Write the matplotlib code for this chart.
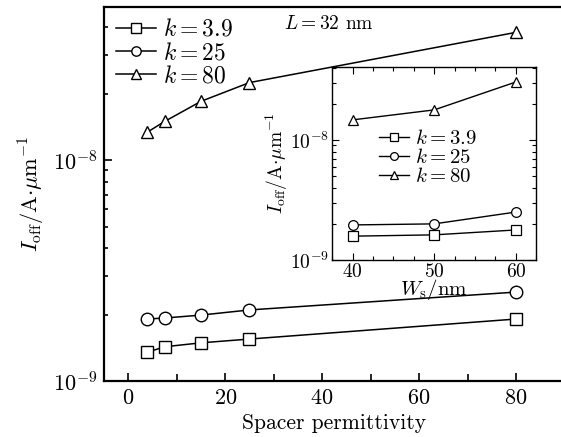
import matplotlib
matplotlib.use("Agg")
import matplotlib.pyplot as plt
from matplotlib.ticker import LogLocator, MultipleLocator, NullFormatter

plt.rcParams["font.family"] = "serif"
plt.rcParams["font.serif"] = ["cmr10", "DejaVu Serif"]
plt.rcParams["mathtext.fontset"] = "cm"
plt.rcParams["axes.formatter.use_mathtext"] = True

# main plot: off current vs spacer permittivity
eps_spacer = [3.9, 7.5, 15, 25, 80]
ioff_k39 = [1.35e-9, 1.43e-9, 1.49e-9, 1.55e-9, 1.91e-9]
ioff_k25 = [1.91e-9, 1.93e-9, 1.99e-9, 2.10e-9, 2.53e-9]
ioff_k80 = [1.34e-8, 1.50e-8, 1.85e-8, 2.25e-8, 3.80e-8]

# inset: off current vs spacer width
ws_nm = [40, 50, 60]
inset_k39 = [1.58e-9, 1.62e-9, 1.78e-9]
inset_k25 = [1.96e-9, 2.00e-9, 2.51e-9]
inset_k80 = [1.47e-8, 1.78e-8, 3.04e-8]

labels = [r"$k=3.9$", r"$k=25$", r"$k=80$"]
markers = ["s", "o", "^"]
ylab = r"$I_{\rm off}/{\rm A}{\cdot}\mu{\rm m}^{-1}$"

fig = plt.figure(figsize=(5.61, 4.37), dpi=100)
ax = fig.add_axes([0.1854, 0.128, 0.821, 0.856])

for ys, m, lab in zip([ioff_k39, ioff_k25, ioff_k80], markers, labels):
    ax.plot(eps_spacer, ys, color="black", lw=1.1, marker=m, ms=9,
            mfc="white", mec="black", mew=1.0, label=lab)

ax.set_yscale("log")
ax.set_xlim(-5, 90)
ax.set_ylim(1e-9, 4.95e-8)
ax.xaxis.set_major_locator(MultipleLocator(20))
ax.xaxis.set_minor_locator(MultipleLocator(10))
ax.yaxis.set_major_locator(LogLocator(base=10, numticks=10))
ax.yaxis.set_minor_locator(LogLocator(base=10, subs=range(2, 10), numticks=10))
ax.yaxis.set_minor_formatter(NullFormatter())
ax.tick_params(which="both", direction="in", labelsize=16, width=1.2, pad=5)
ax.tick_params(which="major", length=6)
ax.tick_params(which="minor", length=5)
ax.tick_params(axis="y", which="minor", length=3)
for s in ["left", "bottom", "top"]:
    ax.spines[s].set_linewidth(1.6)
ax.spines["right"].set_visible(False)

ax.set_xlabel("Spacer permittivity", fontsize=15.5, labelpad=4)
ax.set_ylabel(ylab, fontsize=16, labelpad=4)
ax.legend(loc="upper left", frameon=False, fontsize=17, handlelength=1.7,
          handletextpad=0.3, labelspacing=0.05, borderaxespad=0.2,
          borderpad=0.3, markerscale=0.75)
ax.text(0.39, 0.955, r"$L=32$ nm", transform=ax.transAxes, fontsize=14,
        va="center", ha="left")

# inset
ins = fig.add_axes([0.592, 0.405, 0.364, 0.4416])
for ys, m, lab in zip([inset_k39, inset_k25, inset_k80], markers, labels):
    ins.plot(ws_nm, ys, color="black", lw=1.0, marker=m, ms=7,
             mfc="white", mec="black", mew=0.9, label=lab)
ins.set_yscale("log")
ins.set_xlim(37.5, 62.5)
ins.set_ylim(1e-9, 4.05e-8)
ins.xaxis.set_major_locator(MultipleLocator(10))
ins.xaxis.set_minor_locator(MultipleLocator(2.5))
ins.yaxis.set_major_locator(LogLocator(base=10, numticks=10))
ins.yaxis.set_minor_locator(LogLocator(base=10, subs=range(2, 10), numticks=10))
ins.yaxis.set_minor_formatter(NullFormatter())
ins.tick_params(which="both", direction="in", top=True, right=True,
                labelsize=14, width=0.8, pad=2)
ins.tick_params(which="major", length=5)
ins.tick_params(which="minor", length=3)
for s in ins.spines.values():
    s.set_linewidth(1.0)
ins.set_xlabel(r"$W_{\rm s}/{\rm nm}$", fontsize=15, labelpad=-3)
ins.set_ylabel(ylab, fontsize=14, labelpad=0)
ins.legend(loc="center", bbox_to_anchor=(0.47, 0.53), frameon=False,
           fontsize=15, handlelength=1.4, handletextpad=0.3,
           labelspacing=0.0, markerscale=0.8)

fig.savefig("out.png", dpi=100)
